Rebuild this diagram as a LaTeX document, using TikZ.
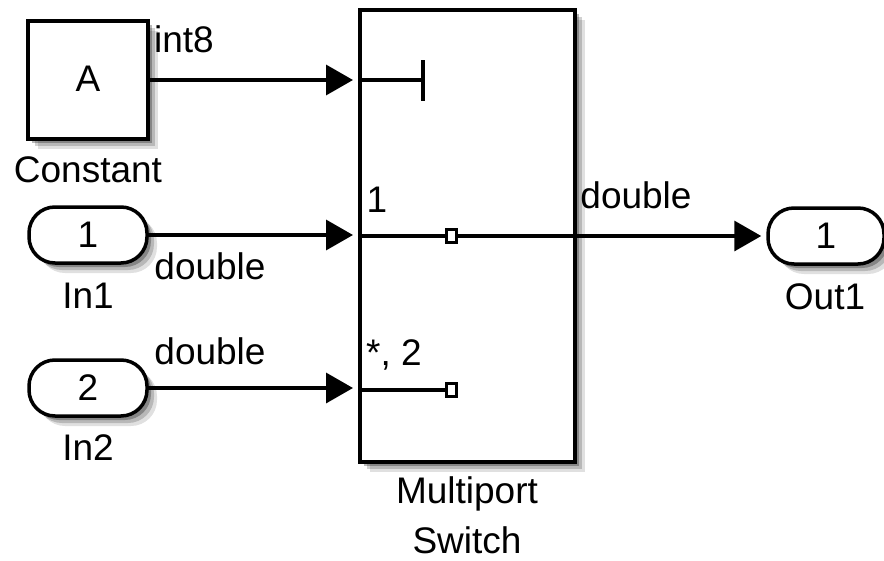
\documentclass[tikz,border=0pt]{standalone}
\usepackage{fontspec}
\setmainfont{Liberation Sans}
\usetikzlibrary{arrows.meta,shadows}
\tikzset{
  softshadow/.style={
    drop shadow={shadow xshift=10pt,shadow yshift=-10pt,opacity=0.12,fill=black},
    drop shadow={shadow xshift=7pt,shadow yshift=-7pt,opacity=0.18,fill=black},
    drop shadow={shadow xshift=4pt,shadow yshift=-4pt,opacity=0.28,fill=black}},
  blk/.style={draw=black,line width=3.5pt,fill=white,softshadow,inner sep=0pt},
  port/.style={blk,rounded corners=26pt,minimum width=118pt,minimum height=56pt},
  lbl/.style={inner sep=0pt,font=\fontsize{37}{40}\selectfont},
  sig/.style={line width=3.5pt},
  arr/.style={sig,-{Triangle[length=27pt,width=30pt]}},
  sq/.style={draw=black,line width=3pt,fill=white,minimum width=10pt,minimum height=13pt,inner sep=0pt}
}
\begin{document}
\begin{tikzpicture}[x=1pt,y=-1pt]
\useasboundingbox (0,0) rectangle (884,560);
% blocks
\node[blk,minimum width=120pt,minimum height=118pt] (const) at (88,80) {};
\node[lbl] (ctxt) at (88,79) {A};
\node[port] (in1) at (88,235) {};
\node[lbl] (in1txt) at (88,235) {1};
\node[port] (in2) at (88,388) {};
\node[lbl] (in2txt) at (88,388) {2};
\node[port,minimum width=116pt] (out1) at (826,236) {};
\node[lbl] (out1txt) at (826,236) {1};
\node[blk,minimum width=215pt,minimum height=452pt] (sw) at (467.5,236) {};
% block names
\node[lbl] (cname) at (88,170) {Constant};
\node[lbl] (in1name) at (88,296) {In1};
\node[lbl] (in2name) at (88,448) {In2};
\node[lbl] (out1name) at (825,297) {Out1};
\node[lbl] (swname1) at (467,494) {Multiport};
\node[lbl] (swname2) at (467,540) {Switch};
% ports inside switch
\coordinate (p0) at (360,80);
\coordinate (p1) at (360,236);
\coordinate (p2) at (360,390);
\coordinate (bar) at (423,80);
\coordinate (bartop) at (423,60);
\coordinate (barbot) at (423,101);
\node[sq] (sq1) at (451,236) {};
\node[sq] (sq2) at (451,390) {};
\node[lbl] (plab1) at (377,200) {1};
\node[lbl] (plab2) at (394,355) {*, 2};
% signals
\draw[arr,shorten >=7pt] (const.east) -- (p0);
\draw[arr,shorten >=7pt] (in1.east) -- (in1.east -| p1);
\draw[arr,shorten >=7pt] (in2.east) -- (in2.east -| p2);
\draw[sig] (p0) -- (bar);
\draw[sig] (bartop) -- (barbot);
\draw[sig] (p1) -- (sq1.west);
\draw[sig] (p2) -- (sq2.west);
\draw[arr,shorten >=5pt] (sq1.east) -- (out1.west);
% signal labels
\node[lbl] (t0) at (184,39) {int8};
\node[lbl] (t1) at (210,266) {double};
\node[lbl] (t2) at (210,351) {double};
\node[lbl] (t3) at (636,195) {double};
\end{tikzpicture}
\end{document}
